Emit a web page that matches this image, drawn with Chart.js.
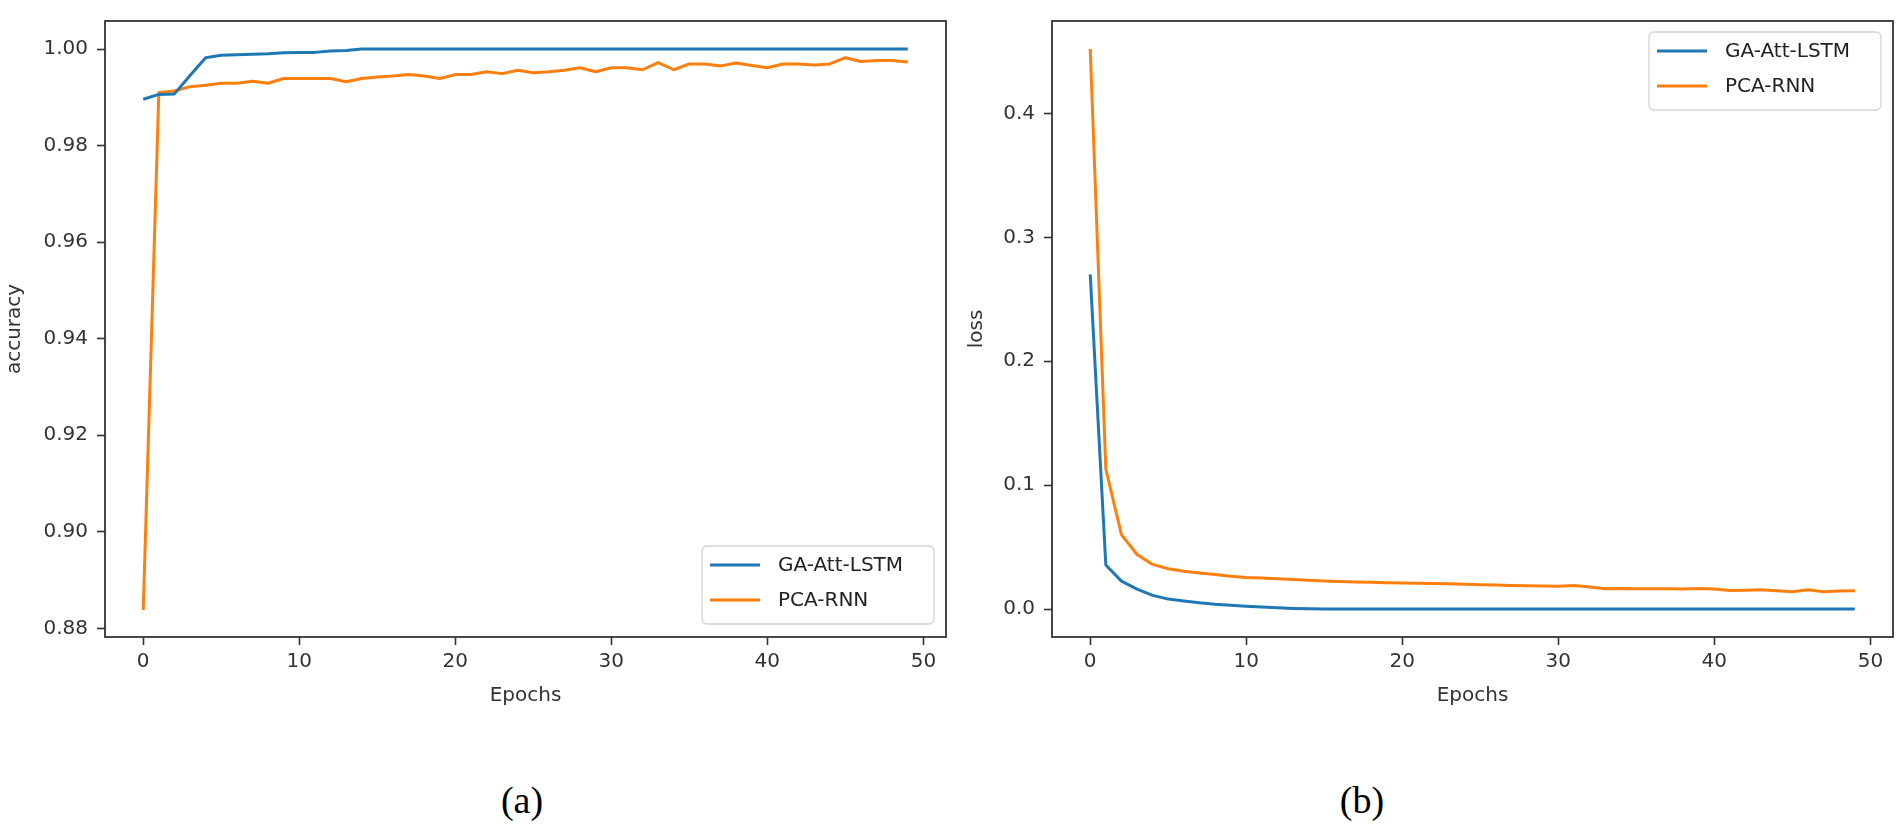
<!DOCTYPE html>
<html><head><meta charset="utf-8">
<script src="https://cdn.jsdelivr.net/npm/chart.js@4.4.1/dist/chart.umd.min.js"></script>
<style>
html,body{margin:0;padding:0;background:#fff;width:1902px;height:829px;overflow:hidden;position:relative;}
canvas{position:absolute;top:0;}
#c1{left:0;width:960px;height:720px;}
#c2{left:955px;width:947px;height:720px;}
.cap{position:absolute;font-family:"Liberation Serif","Times New Roman",serif;font-size:38px;color:#000;transform:translate(-50%,-50%);white-space:nowrap;}
</style></head><body>
<canvas id="c1" width="960" height="720"></canvas>
<canvas id="c2" width="947" height="720"></canvas>
<div class="cap" style="left:522px;top:800px">(a)</div>
<div class="cap" style="left:1362px;top:800px">(b)</div>
<script>
// ---- data ----
const epochs = [0,1,2,3,4,5,6,7,8,9,10,11,12,13,14,15,16,17,18,19,20,21,22,23,24,25,26,27,28,29,30,31,32,33,34,35,36,37,38,39,40,41,42,43,44,45,46,47,48,49];
const seriesNames = ["GA-Att-LSTM", "PCA-RNN"];
const accGA = [0.9896,0.9906,0.9907,0.9945,0.9982,0.9987,0.9988,0.9989,0.9990,0.9992,0.9993,0.9993,0.9996,0.9997,1.0,1.0,1.0,1.0,1.0,1.0,1.0,1.0,1.0,1.0,1.0,1.0,1.0,1.0,1.0,1.0,1.0,1.0,1.0,1.0,1.0,1.0,1.0,1.0,1.0,1.0,1.0,1.0,1.0,1.0,1.0,1.0,1.0,1.0,1.0,1.0];
const accPCA = [0.8838,0.9910,0.9913,0.9922,0.9925,0.9929,0.9929,0.9933,0.9929,0.9939,0.9939,0.9939,0.9939,0.9932,0.9939,0.9942,0.9944,0.9947,0.9944,0.9939,0.9947,0.9947,0.9953,0.9949,0.9956,0.9951,0.9953,0.9956,0.9961,0.9953,0.9961,0.9961,0.9957,0.9972,0.9957,0.9969,0.9969,0.9965,0.9971,0.9966,0.9961,0.9969,0.9969,0.9967,0.9969,0.9982,0.9974,0.9976,0.9976,0.9973];
const lossGA = [0.270,0.0355,0.0225,0.016,0.011,0.008,0.0065,0.005,0.0038,0.003,0.0022,0.0016,0.001,0.0005,0.0002,0.0001,0.0001,0.0001,0.0001,0.0001,0.0001,0.0001,0.0001,0.0001,0.0001,0.0001,0.0001,0.0001,0.0001,0.0001,0.0001,0.0001,0.0001,0.0001,0.0001,0.0001,0.0001,0.0001,0.0001,0.0001,0.0001,0.0001,0.0001,0.0001,0.0001,0.0001,0.0001,0.0001,0.0001,0.0001];
const lossPCA = [0.452,0.113,0.060,0.044,0.036,0.0325,0.0305,0.029,0.0278,0.0265,0.0255,0.025,0.0245,0.0238,0.0232,0.0226,0.0222,0.0218,0.0215,0.0212,0.0209,0.0207,0.0205,0.0203,0.0199,0.0196,0.0193,0.0190,0.0188,0.0186,0.0183,0.0190,0.0178,0.0163,0.0165,0.0164,0.0163,0.0163,0.0162,0.0165,0.0162,0.0150,0.0152,0.0155,0.0148,0.0140,0.0155,0.0140,0.0145,0.0147];
const xTicks = [0,10,20,30,40,50];
const accTicks = [0.88,0.90,0.92,0.94,0.96,0.98,1.00];
const accTickLabels = ["0.88","0.90","0.92","0.94","0.96","0.98","1.00"];
const lossTicks = [0.0,0.1,0.2,0.3,0.4];
const lossTickLabels = ["0.0","0.1","0.2","0.3","0.4"];
const colors = ["#1f77b4", "#ff7f0e"];

Chart.defaults.font.family = '"DejaVu Sans", sans-serif';
Chart.defaults.font.size = 20;
Chart.defaults.color = '#333';

const framePlugin = {
  id: 'frame',
  afterDatasetsDraw(chart, args, opts) {
    const {ctx, chartArea: a} = chart;
    ctx.save();
    ctx.strokeStyle = '#333';
    ctx.lineWidth = 1.8;
    ctx.strokeRect(a.left, a.top, a.right - a.left, a.bottom - a.top);
    const w = 232, h = 78;
    const x = a.right - 12 - w;
    const y = opts.corner === 'br' ? a.bottom - 13 - h : a.top + 11;
    const r = 5;
    ctx.beginPath();
    ctx.moveTo(x + r, y);
    ctx.arcTo(x + w, y, x + w, y + h, r);
    ctx.arcTo(x + w, y + h, x, y + h, r);
    ctx.arcTo(x, y + h, x, y, r);
    ctx.arcTo(x, y, x + w, y, r);
    ctx.closePath();
    ctx.fillStyle = 'rgba(255,255,255,0.85)';
    ctx.fill();
    ctx.strokeStyle = '#d4d4d4';
    ctx.lineWidth = 1.3;
    ctx.stroke();
    chart.data.datasets.forEach((ds, i) => {
      const yy = y + 19 + i * 35;
      ctx.strokeStyle = ds.borderColor;
      ctx.lineWidth = 3;
      ctx.beginPath();
      ctx.moveTo(x + 8, yy);
      ctx.lineTo(x + 58, yy);
      ctx.stroke();
      ctx.fillStyle = '#222';
      ctx.font = '20px "DejaVu Sans"';
      ctx.textBaseline = 'middle';
      ctx.textAlign = 'left';
      ctx.fillText(ds.label, x + 76, yy + 1);
    });
    ctx.restore();
  }
};

function makeChart(id, series, yMin, yMax, yTicks, yLabels, yTitle, yWidth, padRight, corner, titlePad) {
  return new Chart(document.getElementById(id), {
    type: 'line',
    data: {
      datasets: series.map((vals, i) => ({
        label: seriesNames[i],
        data: epochs.map((e, j) => ({x: e, y: vals[j]})),
        borderColor: colors[i],
        backgroundColor: colors[i],
        borderWidth: 3,
        pointRadius: 0,
        tension: 0,
        fill: false,
        borderJoinStyle: 'round'
      }))
    },
    options: {
      responsive: false,
      animation: false,
      devicePixelRatio: 1,
      layout: {padding: {left: 0, right: padRight, top: 11, bottom: 0}},
      plugins: {legend: {display: false}, tooltip: {enabled: false}, frame: {corner: corner}},
      scales: {
        x: {
          type: 'linear', min: -2.45, max: 51.45,
          afterBuildTicks(s) { s.ticks = xTicks.map(v => ({value: v})); },
          afterFit(s) { s.height = 83; },
          ticks: {color: '#333', padding: 5, maxRotation: 0, callback: (v) => String(v)},
          grid: {display: true, drawOnChartArea: false, drawTicks: true, tickLength: 8, tickColor: '#333', tickWidth: 1.6},
          border: {display: false},
          title: {display: true, text: 'Epochs', color: '#333', padding: {top: 0, bottom: 12}}
        },
        y: {
          type: 'linear', min: yMin, max: yMax,
          afterBuildTicks(s) { s.ticks = yTicks.map(v => ({value: v})); },
          afterFit(s) { s.width = yWidth; },
          ticks: {color: '#333', padding: 9, callback: (v) => yLabels[yTicks.findIndex(t => Math.abs(t - v) < 1e-9)]},
          grid: {display: true, drawOnChartArea: false, drawTicks: true, tickLength: 8, tickColor: '#333', tickWidth: 1.6},
          border: {display: false},
          title: {display: true, text: yTitle, color: '#333', padding: {top: titlePad, bottom: 0}}
        }
      }
    },
    plugins: [framePlugin]
  });
}

makeChart('c1', [accGA, accPCA], 0.8782, 1.0058, accTicks, accTickLabels, 'accuracy', 105, 14, 'br', 3);
makeChart('c2', [lossGA, lossPCA], -0.0226, 0.4746, lossTicks, lossTickLabels, 'loss', 97, 9, 'tr', 10);
</script>
</body></html>
